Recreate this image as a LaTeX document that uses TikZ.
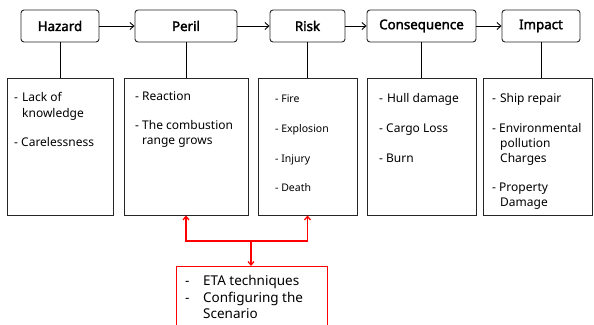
\documentclass[tikz,border=0pt]{standalone}
\usepackage{fontspec}
\setmainfont{Noto Sans}
\newfontfamily\hdrfont{Noto Sans}[FakeBold=2.2]
\usetikzlibrary{arrows.meta}
\tikzset{
  hdr/.style={draw=black!85, line width=0.9pt, rounded corners=3pt, minimum height=32pt, inner sep=0pt, font=\hdrfont\fontsize{13.3}{15}\selectfont},
  bbox/.style={draw=black!85, line width=0.9pt, minimum height=137pt, inner sep=0pt},
  item/.style={anchor=base west, inner sep=0pt, font=\fontsize{12}{14}\selectfont},
  sitem/.style={anchor=base west, inner sep=0pt, font=\fontsize{10.5}{12}\selectfont},
  ritem/.style={anchor=base west, inner sep=0pt, font=\fontsize{13.5}{15}\selectfont},
  flow/.style={draw=black, line width=0.9pt, -{Straight Barb[length=4pt,width=7pt]}},
  conn/.style={draw=black, line width=0.9pt},
  rflow/.style={draw=red, line width=1.3pt, -{Straight Barb[length=3.5pt,width=6pt]}},
  rbox/.style={draw=red, line width=1.3pt, inner sep=0pt}
}
\begin{document}
\begin{tikzpicture}[x=1pt,y=-1pt]
\clip (0,0) rectangle (594,324);
\fill[white] (0,0) rectangle (594,324);
% headers
\node[hdr, minimum width=78pt] (hazard) at (60,26) {Hazard};
\node[hdr, minimum width=102pt] (peril) at (186,26) {Peril};
\node[hdr, minimum width=75pt] (risk) at (307.5,26) {Risk};
\node[hdr, minimum width=109pt] (conseq) at (421.5,26) {Consequence};
\node[hdr, minimum width=78pt] (impact) at (541,26) {Impact};
\draw[flow] (hazard) -- (peril);
\draw[flow] (peril) -- (risk);
\draw[flow] (risk) -- (conseq);
\draw[flow] (conseq) -- (impact);
% bottom boxes
\node[bbox, minimum width=106pt] (hazardB) at (60,146.5) {};
\node[bbox, minimum width=124pt] (perilB) at (186,146.5) {};
\node[bbox, minimum width=99pt] (riskB) at (307.5,146.5) {};
\node[bbox, minimum width=109pt] (conseqB) at (421.5,146.5) {};
\node[bbox, minimum width=109pt] (impactB) at (537.5,146.5) {};
\draw[conn] (hazard.south) -- (hazard.south |- hazardB.north);
\draw[conn] (peril.south) -- (peril.south |- perilB.north);
\draw[conn] (risk.south) -- (risk.south |- riskB.north);
\draw[conn] (conseq.south) -- (conseq.south |- conseqB.north);
\draw[conn] (impact.south) -- (impact.south |- impactB.north);
% hazard text
\node[item] (h1) at (14,101) {-\hspace{4pt}Lack of};
\node[item] (h2) at (22,117) {knowledge};
\node[item] (h3) at (14,146) {- Carelessness};
% peril text
\node[item] (p1) at (135,100) {- Reaction};
\node[item] (p2) at (135,129) {- The combustion};
\node[item] (p3) at (142,144) {range grows};
% risk text
\node[sitem] (r1) at (275,102) {- Fire};
\node[sitem] (r2) at (275,132) {- Explosion};
\node[sitem] (r3) at (275,162) {- Injury};
\node[sitem] (r4) at (275,191) {- Death};
% consequence text
\node[item] (c1) at (379,102) {-\hspace{4pt}Hull damage};
\node[item] (c2) at (379,132) {- Cargo Loss};
\node[item] (c3) at (379,162) {- Burn};
% impact text
\node[item] (i1) at (492,102) {-\hspace{4pt}Ship repair};
\node[item] (i2) at (492,132) {- Environmental};
\node[item] (i3) at (500,147) {pollution};
\node[item] (i4) at (500,162) {Charges};
\node[item] (i5) at (492,191) {- Property};
\node[item] (i6) at (500,206) {Damage};
% red box
\node[rbox, minimum width=151pt, minimum height=70pt, anchor=north west] (eta) at (176,266) {};
\coordinate (j) at (251,241);
\draw[rflow] (j) -| (perilB.south);
\draw[rflow] (j) -| (riskB.south);
\draw[rflow] (j) -- (eta.north -| j);
\node[ritem] (e1) at (185,285) {-};
\node[ritem] (e2) at (203,285) {ETA techniques};
\node[ritem] (e3) at (185,302) {-};
\node[ritem] (e4) at (203,302) {Configuring the};
\node[ritem] (e5) at (203,318) {Scenario};
\end{tikzpicture}
\end{document}
